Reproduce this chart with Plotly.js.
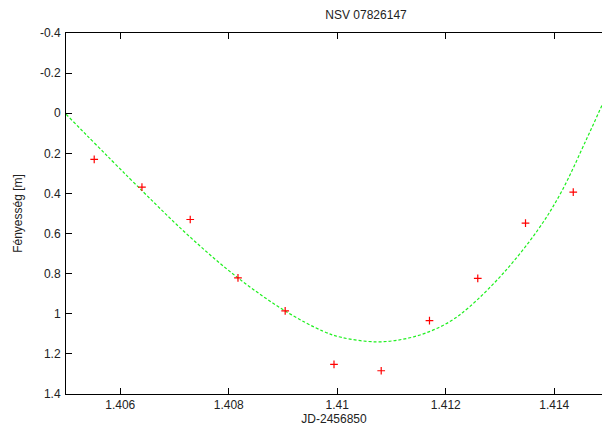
<!DOCTYPE html>
<html>
<head>
<meta charset="utf-8">
<script src="https://cdn.plot.ly/plotly-3.0.1.min.js"></script>
<style>html,body{margin:0;padding:0;background:#fff;}#chart{width:602px;height:430px;}</style>
</head>
<body>
<div id="chart"></div>
<script>
// Observations (red +)
const obsX = [1.40552, 1.40640, 1.40729, 1.40817, 1.40904, 1.40994, 1.41081, 1.41170, 1.41259, 1.41347, 1.41435];
const obsY = [0.230, 0.368, 0.530, 0.821, 0.986, 1.252, 1.284, 1.034, 0.823, 0.548, 0.393];

// Fitted curve (green dashed)
const fitX = [1.40500, 1.40640, 1.40729, 1.40817, 1.40904, 1.40974, 1.41008, 1.41072, 1.41121, 1.41164, 1.41207, 1.41243, 1.41306, 1.41370, 1.41413, 1.41459, 1.41488];
const fitY = [0.005, 0.386, 0.618, 0.821, 0.986, 1.087, 1.118, 1.140, 1.127, 1.095, 1.040, 0.967, 0.798, 0.581, 0.393, 0.132, -0.040];

// Tick labels
const xTickVals = [1.406, 1.408, 1.410, 1.412, 1.414];
const xTickText = ["1.406", "1.408", "1.41", "1.412", "1.414"];
const yTickVals = [-0.4, -0.2, 0, 0.2, 0.4, 0.6, 0.8, 1.0, 1.2, 1.4];
const yTickText = ["-0.4", "-0.2", "0", "0.2", "0.4", "0.6", "0.8", "1", "1.2", "1.4"];

const font = {family: "Liberation Sans, Arial, sans-serif", size: 12, color: "#222"};

const traces = [
  {
    x: fitX, y: fitY, type: "scatter", mode: "lines",
    line: {color: "#1fef1f", width: 1.2, dash: "3px,2px", shape: "spline", smoothing: 1},
    hoverinfo: "skip", cliponaxis: true
  },
  {
    x: obsX, y: obsY, type: "scatter", mode: "markers",
    marker: {symbol: "cross-thin", size: 5.5, color: "#ff0000", line: {color: "#ff0000", width: 1.2}}
  }
];

const layout = {
  width: 602, height: 430,
  margin: {l: 66, r: 0, t: 33, b: 36, pad: 0},
  paper_bgcolor: "#fff", plot_bgcolor: "#fff",
  showlegend: false,
  font: font,
  title: {text: "NSV 07826147", font: {family: font.family, size: 12, color: "#222"},
          x: 337 / 602, xref: "paper", xanchor: "center", y: 1 - 15 / 430, yref: "container", yanchor: "middle"},
  xaxis: {
    range: [1.405, 1.41488], autorange: false,
    tickvals: xTickVals, ticktext: xTickText,
    ticks: "inside", ticklen: 6, tickwidth: 1, tickcolor: "#000",
    showline: true, linecolor: "#000", linewidth: 1, mirror: "ticks",
    showgrid: false, zeroline: false,
    tickfont: font,
    title: {text: "JD-2456850", font: font, standoff: 0}
  },
  yaxis: {
    range: [1.4, -0.4], autorange: false,
    tickvals: yTickVals, ticktext: yTickText,
    ticks: "inside", ticklen: 6, tickwidth: 1, tickcolor: "#000",
    showline: true, linecolor: "#000", linewidth: 1, mirror: false,
    showgrid: false, zeroline: false,
    tickfont: font, ticklabelstandoff: 2,
    title: {text: "Fényesség [m]", font: font, standoff: 14}
  }
};

Plotly.newPlot("chart", traces, layout, {staticPlot: true, displayModeBar: false});
</script>
</body>
</html>
